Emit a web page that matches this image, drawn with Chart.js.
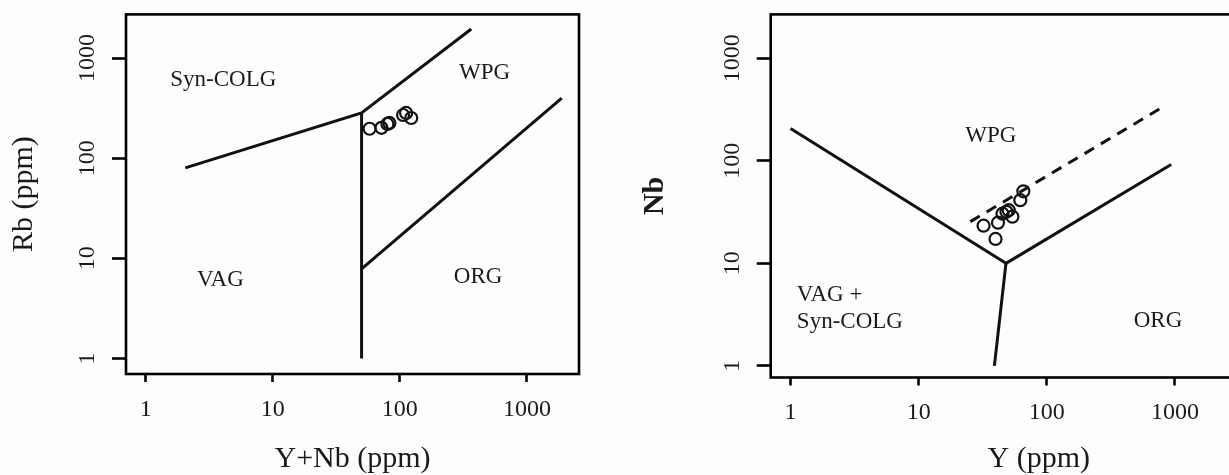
<!DOCTYPE html>
<html>
<head>
<meta charset="utf-8">
<script src="https://cdn.jsdelivr.net/npm/chart.js@4"></script>
<style>
  html, body { margin: 0; padding: 0; background: #fdfdfd; overflow: hidden; }
  #wrap { position: relative; width: 1229px; height: 475px; overflow: hidden; }
  .panel { position: absolute; top: 0; height: 475px; }
  #left { left: 0; width: 615px; }
  #right { left: 615px; width: 700px; }
</style>
</head>
<body>
<div id="wrap">
  <div class="panel" id="left"><canvas id="chartRb" width="615" height="475"></canvas></div>
  <div class="panel" id="right"><canvas id="chartNb" width="700" height="475"></canvas></div>
</div>
<script>
// tick labels (both axes, both panels)
const tickValues = [1, 10, 100, 1000];

// Rb vs Y+Nb : samples
const rbSampleX = [57.8, 71.7, 79.8, 82.8, 106, 112, 123];
const rbSampleY = [197, 201, 220, 225, 270, 283, 252];
// Rb vs Y+Nb : field boundaries
const rbUpperX = [2.05, 50, 365];
const rbUpperY = [80, 283, 1950];
const rbVerticalX = [50, 50];
const rbVerticalY = [283, 1];
const rbOrgX = [50, 1880];
const rbOrgY = [7.85, 398];
// Rb vs Y+Nb : field names
const rbZoneNames = ["Syn-COLG", "WPG", "VAG", "ORG"];
const rbZoneX = [4.08, 464, 3.87, 413];
const rbZoneY = [601, 715, 6.12, 6.59];

// Nb vs Y : samples
const nbSampleX = [32.1, 41.6, 39.8, 45.1, 48.4, 50.5, 53.9, 62.1, 65.6];
const nbSampleY = [23.3, 24.9, 17.3, 30.5, 31.8, 33.0, 28.5, 41.3, 50.4];
// Nb vs Y : field boundaries
const nbWpgX = [1, 48];
const nbWpgY = [207, 10];
const nbOrgX = [48, 935];
const nbOrgY = [10, 92];
const nbLowerX = [48, 39];
const nbLowerY = [10, 1];
const nbDashX = [25.3, 850];
const nbDashY = [25.5, 349];
// Nb vs Y : field names
const nbZoneNames = ["WPG", "VAG +", "Syn-COLG", "ORG"];
const nbZoneX = [36.6, 1.12, 1.12, 738];
const nbZoneY = [175, 4.92, 2.66, 2.72];
const nbZoneAlign = ["center", "left", "left", "center"];

const serif = '"Liberation Serif", "DejaVu Serif", serif';
const ink = "#1a1a1a";

const pts = (xs, ys) => xs.map((x, i) => ({ x: x, y: ys[i] }));

function boundary(xs, ys, dash) {
    return {
        data: pts(xs, ys),
        showLine: true,
        pointRadius: 0,
        borderColor: "#111",
        borderWidth: 3,
        borderDash: dash || [],
        fill: false
    };
}

function samples(xs, ys) {
    return {
        data: pts(xs, ys),
        showLine: false,
        pointRadius: 6,
        pointBorderWidth: 2.2,
        pointBorderColor: "#111",
        pointBackgroundColor: "rgba(0,0,0,0)"
    };
}

// box around plot + field names
const framePlugin = {
    id: "frame",
    afterDraw(chart, args, opts) {
        const { ctx, chartArea: a, scales } = chart;
        ctx.save();
        ctx.strokeStyle = "#000";
        ctx.lineWidth = 2.6;
        ctx.strokeRect(a.left, a.top, a.right - a.left, a.bottom - a.top);
        ctx.font = "23px " + serif;
        ctx.fillStyle = ink;
        ctx.textBaseline = "middle";
        opts.names.forEach((n, i) => {
            ctx.textAlign = opts.align ? opts.align[i] : "center";
            ctx.fillText(n, scales.x.getPixelForValue(opts.xs[i]), scales.y.getPixelForValue(opts.ys[i]));
        });
        ctx.restore();
    }
};

function makeChart(id, cfg) {
    return new Chart(document.getElementById(id), {
        type: "scatter",
        data: { datasets: cfg.datasets },
        options: {
            responsive: false,
            animation: false,
            layout: { padding: cfg.padding },
            plugins: {
                legend: { display: false },
                tooltip: { enabled: false },
                frame: cfg.frame
            },
            scales: {
                x: {
                    type: "logarithmic",
                    min: cfg.xMin, max: cfg.xMax,
                    afterBuildTicks: s => { s.ticks = tickValues.map(v => ({ value: v })); },
                    afterFit: s => { s.height = cfg.xAxisHeight; },
                    grid: { drawOnChartArea: false, tickLength: 8, tickWidth: 2.6, tickColor: "#000" },
                    border: { display: false },
                    ticks: { padding: 13, color: ink, font: { family: serif, size: 24 }, callback: v => String(v), autoSkip: false, maxRotation: 0 },
                    title: { display: true, text: cfg.xTitle, color: ink, font: { family: serif, size: 30, lineHeight: 1 }, padding: { top: 0, bottom: 1 } }
                },
                y: {
                    type: "logarithmic",
                    min: cfg.yMin, max: cfg.yMax,
                    afterBuildTicks: s => { s.ticks = tickValues.map(v => ({ value: v })); },
                    afterFit: s => { s.width = cfg.yAxisWidth; },
                    grid: { drawOnChartArea: false, tickLength: 14, tickWidth: 2.6, tickColor: "#000" },
                    border: { display: false },
                    ticks: { minRotation: 90, maxRotation: 90, crossAlign: "center", padding: 0, color: ink, font: { family: serif, size: 24 }, callback: v => String(v), autoSkip: false },
                    title: { display: true, text: cfg.yTitle, color: ink, font: { family: serif, size: 30, lineHeight: 1, weight: cfg.yBold ? "bold" : "normal" }, padding: { top: cfg.yTitlePad, bottom: 0 } }
                }
            }
        },
        plugins: [framePlugin]
    });
}

makeChart("chartRb", {
    datasets: [
        boundary(rbUpperX, rbUpperY),
        boundary(rbVerticalX, rbVerticalY),
        boundary(rbOrgX, rbOrgY),
        samples(rbSampleX, rbSampleY)
    ],
    padding: { top: 10, right: 36, left: 0, bottom: 0 },
    xMin: 0.74, xMax: 2570, yMin: 0.716, yMax: 2730,
    xAxisHeight: 101, yAxisWidth: 126,
    xTitle: "Y+Nb (ppm)", yTitle: "Rb (ppm)", yBold: false, yTitlePad: 9,
    frame: { names: rbZoneNames, xs: rbZoneX, ys: rbZoneY }
});

makeChart("chartNb", {
    datasets: [
        boundary(nbWpgX, nbWpgY),
        boundary(nbOrgX, nbOrgY),
        boundary(nbLowerX, nbLowerY),
        boundary(nbDashX, nbDashY, [11, 8]),
        samples(nbSampleX, nbSampleY)
    ],
    padding: { top: 11, right: 6, left: 0, bottom: 0 },
    xMin: 0.73, xMax: 10700, yMin: 0.77, yMax: 2680,
    xAxisHeight: 97.5, yAxisWidth: 155.7,
    xTitle: "Y (ppm)", yTitle: "Nb", yBold: true, yTitlePad: 25,
    frame: { names: nbZoneNames, xs: nbZoneX, ys: nbZoneY, align: nbZoneAlign }
});
</script>
</body>
</html>
